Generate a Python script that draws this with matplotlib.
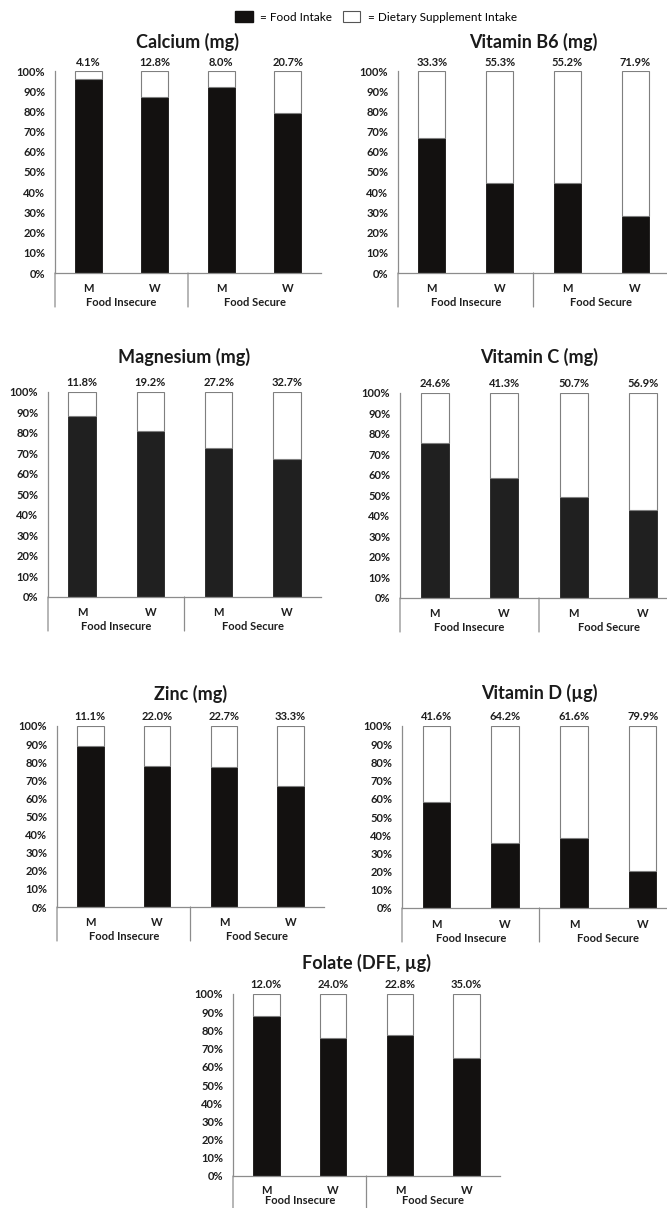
import matplotlib
matplotlib.use("Agg")
import matplotlib.pyplot as plt
import matplotlib.transforms as mtransforms
from matplotlib.patches import Patch

plt.rcParams["font.family"] = ["Lato", "DejaVu Sans"]

# share of intake coming from dietary supplements (%), order: M/W insecure, M/W secure
categories = ["M", "W", "M", "W"]
groups = ["Food Insecure", "Food Secure"]

calcium_supp = [4.1, 12.8, 8.0, 20.7]
vitamin_b6_supp = [33.3, 55.3, 55.2, 71.9]
magnesium_supp = [11.8, 19.2, 27.2, 32.7]
vitamin_c_supp = [24.6, 41.3, 50.7, 56.9]
zinc_supp = [11.1, 22.0, 22.7, 33.3]
vitamin_d_supp = [41.6, 64.2, 61.6, 79.9]
folate_supp = [12.0, 24.0, 22.8, 35.0]

titles = [
    "Calcium (mg)",
    "Vitamin B6 (mg)",
    "Magnesium (mg)",
    "Vitamin C (mg)",
    "Zinc (mg)",
    "Vitamin D (\u00b5g)",
    "Folate (DFE, \u00b5g)",
]

W, H = 667, 1208
# axes boxes in pixels: left, top, right, bottom
boxes = [
    (55, 71, 321, 273),
    (398, 71, 669, 273),
    (48, 392, 321, 597),
    (400, 393, 678, 598),
    (57, 726, 324, 907),
    (402, 726, 677, 908),
    (233, 994, 500, 1176),
]
food_colors = ["#131110", "#131110", "#202020", "#202020", "#131110", "#131110", "#131110"]
title_gap = [29, 29, 35, 36, 32, 33, 31]
# offsets below the axis: category row, group row, separator end
row_gaps = [(16, 30, 34)] * 6 + [(14, 25, 32)]

GREY = "#8c8c8c"
TEXT = "#1e1e1e"


def draw_panel(fig, box, title, supp, color, gap, rows):
    left, top, right, bottom = box
    ax = fig.add_axes([left / W, 1 - bottom / H, (right - left) / W, (bottom - top) / H])
    x = list(range(len(supp)))
    food = [100 - s for s in supp]

    ax.bar(x, food, width=0.4, color=color, edgecolor=color, linewidth=0.6)
    ax.bar(x, supp, bottom=food, width=0.4, color="white", edgecolor="#7f7f7f", linewidth=0.8)

    ax.set_xlim(-0.5, len(supp) - 0.5)
    ax.set_ylim(0, 100)
    ax.set_yticks(range(0, 101, 10))
    ax.set_yticklabels([f"{v}%" for v in range(0, 101, 10)])
    ax.tick_params(axis="y", length=0, pad=7, labelsize=8, colors=TEXT)
    for lab in ax.get_yticklabels():
        lab.set_fontweight("bold")
    ax.set_xticks([])

    for side in ("top", "right"):
        ax.spines[side].set_visible(False)
    for side in ("left", "bottom"):
        ax.spines[side].set_color(GREY)
        ax.spines[side].set_linewidth(0.9)

    xt = ax.get_xaxis_transform()
    # value labels above each bar
    above = mtransforms.offset_copy(ax.transData, fig=fig, y=9, units="dots")
    for xi, s in zip(x, supp):
        ax.text(xi, 100, f"{s:.1f}%", transform=above, ha="center", va="center",
                fontsize=8, fontweight="bold", color=TEXT)

    # two-level category axis
    r1, r2, r3 = rows
    row1 = mtransforms.offset_copy(xt, fig=fig, y=-r1, units="dots")
    row2 = mtransforms.offset_copy(xt, fig=fig, y=-r2, units="dots")
    for xi, c in zip(x, categories):
        ax.text(xi, 0, c, transform=row1, ha="center", va="center",
                fontsize=8, fontweight="bold", color=TEXT)
    for gi, g in enumerate(groups):
        ax.text(2 * gi + 0.5, 0, g, transform=row2, ha="center", va="center",
                fontsize=8, fontweight="bold", color=TEXT)
    sep = mtransforms.offset_copy(xt, fig=fig, y=-r3, units="dots")
    for xs in (-0.5, 1.5):
        ax.annotate("", xy=(xs, 0), xycoords=xt, xytext=(xs, 0), textcoords=sep,
                    arrowprops=dict(arrowstyle="-", color=GREY, lw=0.9,
                                    shrinkA=0, shrinkB=0))

    head = mtransforms.offset_copy(ax.transAxes, fig=fig, y=gap, units="dots")
    ax.text(0.5, 1, title, transform=head, ha="center", va="center",
            fontsize=13, fontweight="bold", color="#1a1a1a")
    return ax


def main() -> None:
    fig = plt.figure(figsize=(W / 100, H / 100), dpi=100)
    supps = [calcium_supp, vitamin_b6_supp, magnesium_supp, vitamin_c_supp,
             zinc_supp, vitamin_d_supp, folate_supp]
    for box, title, supp, color, gap, rows in zip(boxes, titles, supps, food_colors,
                                                  title_gap, row_gaps):
        draw_panel(fig, box, title, supp, color, gap, rows)

    handles = [
        Patch(facecolor="#131110", edgecolor="#131110"),
        Patch(facecolor="white", edgecolor="#555555", linewidth=0.8),
    ]
    fig.legend(handles, ["= Food Intake", "= Dietary Supplement Intake"],
               loc="center", bbox_to_anchor=(376 / W, 1 - 17 / H), ncol=2,
               frameon=False, fontsize=8.5, handlelength=1.5, handleheight=1.0,
               handletextpad=0.6, columnspacing=0.9)

    fig.savefig("out.png", dpi=100, facecolor="white")


if __name__ == "__main__":
    main()
